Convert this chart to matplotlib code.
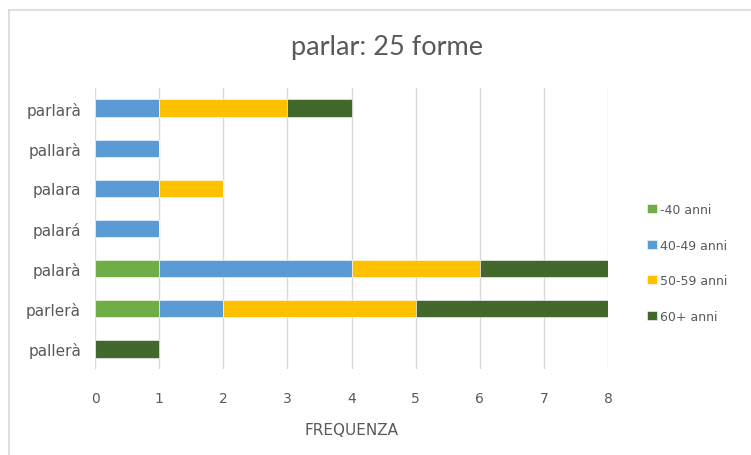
import matplotlib.pyplot as plt
import numpy as np

plt.rcParams['font.family'] = ['DejaVu Sans']

forms = ["parlarà", "pallarà", "palara", "palará", "palarà", "parlerà", "pallerà"]
age_groups = ["-40 anni", "40-49 anni", "50-59 anni", "60+ anni"]
under40 = [0, 0, 0, 0, 1, 1, 0]
age40_49 = [1, 1, 1, 1, 3, 1, 0]
age50_59 = [2, 0, 1, 0, 2, 3, 0]
over60 = [1, 0, 0, 0, 2, 3, 1]
colors = ["#70AD47", "#5B9BD5", "#FFC000", "#43682B"]

txt = "#595959"

fig = plt.figure(figsize=(7.51, 4.56), dpi=100)
ax = fig.add_axes([95 / 751, 1 - 370 / 456, 513 / 751, 281 / 456])

y = np.arange(len(forms))
left = np.zeros(len(forms))
for vals, lab, col in zip([under40, age40_49, age50_59, over60], age_groups, colors):
    vals = np.array(vals)
    ax.barh(y, vals, left=left, height=0.43, color=col, label=lab,
            edgecolor="white", linewidth=0.4, zorder=3)
    left += vals

ax.set_ylim(len(forms) - 0.5, -0.5)
ax.set_xlim(0, 8)
ax.set_yticks(y)
ax.set_yticklabels(forms, color=txt, fontsize=11)
ax.set_xticks(np.arange(0, 9))
ax.tick_params(axis="x", colors=txt, labelsize=10, length=0, pad=16)
ax.tick_params(axis="y", length=0, pad=10)
for s in ax.spines.values():
    s.set_visible(False)
ax.grid(axis="x", color="#D9D9D9", linewidth=1, zorder=0)
ax.set_xlabel("FREQUENZA", color=txt, fontsize=11, labelpad=12)

fig.text(387 / 751, 1 - 47 / 456, "parlar: 25 forme", ha="center", va="center",
         fontsize=19.5, color=txt, family=['Lato', 'DejaVu Sans'])

fig.legend(loc="center left", bbox_to_anchor=(636 / 751, 1 - 264 / 456), frameon=False,
           fontsize=9, labelcolor=txt, handlelength=0.75, handleheight=0.75,
           handletextpad=0.25, labelspacing=1.8)

# chart border like the spreadsheet frame
fig.add_artist(plt.Line2D([9 / 751, 9 / 751], [0, 1 - 11 / 456], transform=fig.transFigure,
                          color="#D9D9D9", linewidth=1.2))
fig.add_artist(plt.Line2D([9 / 751, 1], [1 - 11 / 456, 1 - 11 / 456], transform=fig.transFigure,
                          color="#D9D9D9", linewidth=1.2))

fig.savefig("out.png", dpi=100)
